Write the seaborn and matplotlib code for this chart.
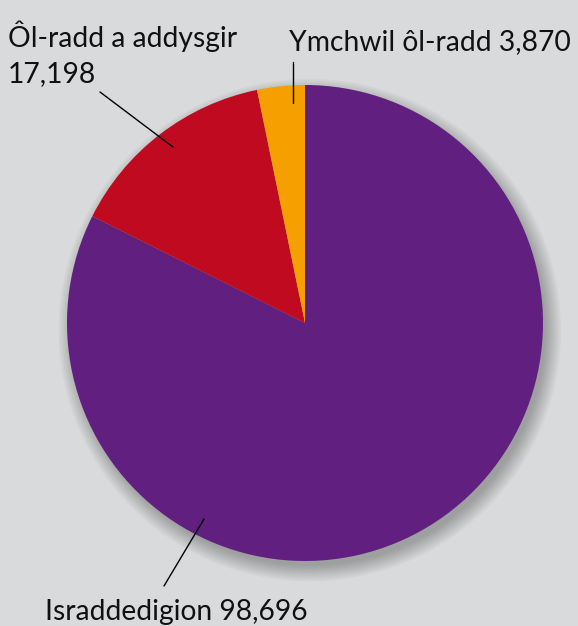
# plot.py
import seaborn as sns
import matplotlib.pyplot as plt
from matplotlib.patches import Circle

# data
labels = ["Israddedigion", "Ôl-radd a addysgir", "Ymchwil ôl-radd"]
values = [98696, 17198, 3870]
colors = ["#612080", "#c00a1f", "#f5a000"]
bg = "#d9dadb"

sns.set_theme(style="white")
plt.rcParams["font.family"] = ["Lato", "DejaVu Sans"]

W, H = 578, 626
fig = plt.figure(figsize=(W / 100, H / 100), dpi=100, facecolor=bg)

# pie centre and radius in pixels
cx, cy, r = 305, 323, 238
ax = fig.add_axes([(cx - r) / W, (H - cy - r) / H, 2 * r / W, 2 * r / H])
ax.set_facecolor(bg)

# soft shadow, offset down-right
for i in range(12):
    ax.add_patch(Circle((0.02, -0.03), 0.99 + 0.006 * i, color="black",
                        alpha=0.022, lw=0, zorder=0, clip_on=False))

ax.pie(values, colors=colors, startangle=90, counterclock=False,
       wedgeprops=dict(linewidth=0), radius=1.0)
ax.set_xlim(-1, 1)
ax.set_ylim(-1, 1)
ax.axis("off")


def px(x, y):
    return (x - cx) / r, (cy - y) / r


# leader lines
for (x0, y0), (x1, y1) in [((100, 92), (173, 147)),
                           ((293, 62), (293, 103)),
                           ((164, 586), (204, 519))]:
    a, b = px(x0, y0)
    c, d = px(x1, y1)
    ax.plot([a, c], [b, d], color="black", lw=1.0, clip_on=False, zorder=5)

fs = 20.3
tc = "#111111"
fig.text(8 / W, 1 - 47 / H, "Ôl-radd a addysgir", fontsize=fs, color=tc,
         ha="left", va="baseline")
fig.text(8 / W, 1 - 82 / H, "17,198", fontsize=fs, color=tc,
         ha="left", va="baseline")
fig.text(289 / W, 1 - 50 / H, "Ymchwil ôl-radd 3,870", fontsize=fs,
         color=tc, ha="left", va="baseline")
fig.text(45 / W, 1 - 620 / H, "Israddedigion 98,696", fontsize=fs,
         color=tc, ha="left", va="baseline")

fig.savefig("out.png", dpi=100, facecolor=bg)
